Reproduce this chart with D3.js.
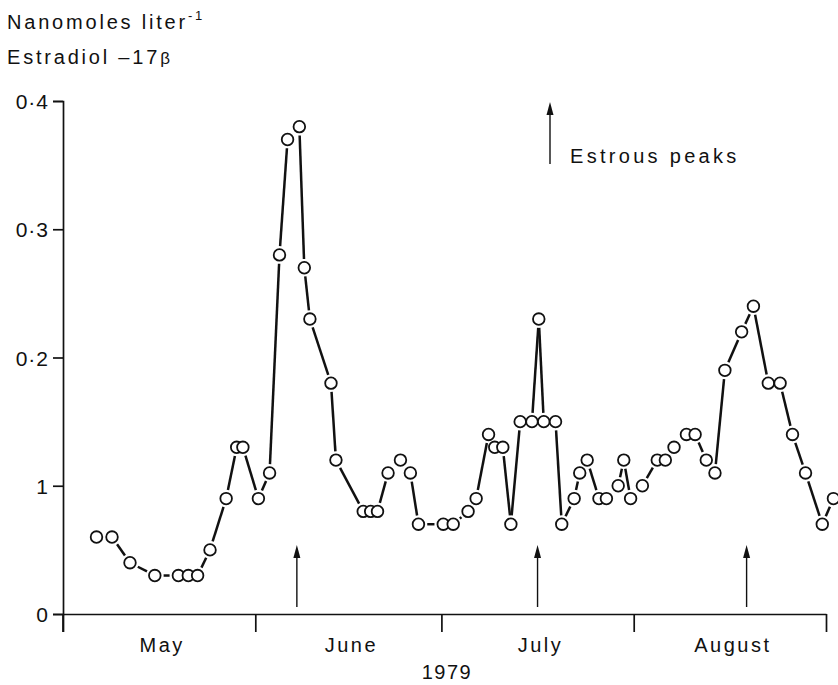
<!DOCTYPE html>
<meta charset="utf-8">
<style>
body { margin: 0; background: #fff; }
svg text { font-family: "Liberation Sans", Arial, sans-serif; fill: #111; }
.axis path, .axis line { stroke: #111; stroke-width: 1.7; }
</style>
<svg width="838" height="685"></svg>
<script src="https://cdn.jsdelivr.net/npm/d3@7"></script>
<script>

// day number counted from 30 April 1979 (May 1 = day 1 boundary at 0)
var days = [5.4, 7.9, 10.8, 14.8, 18.6, 20.2, 21.7, 23.7, 26.3, 28.0, 29.0, 31.5, 33.3,
  34.9, 36.2, 38.1, 38.9, 39.8, 43.2, 44.0, 48.4, 49.6, 50.7, 52.4, 54.4, 56.0, 57.3,
  61.3, 62.9, 65.3, 66.6, 68.6, 69.6, 70.9, 72.2, 73.7, 75.6, 76.7, 77.5, 79.4, 80.4,
  82.4, 83.3, 84.5, 86.4, 87.6, 89.5, 90.4, 91.5, 93.4, 95.8, 97.1, 98.5, 100.5, 101.9,
  103.7, 105.1, 106.7, 109.4, 111.3, 113.7, 115.6, 117.6, 119.7, 122.4, 124.2];

var estradiol = [0.06, 0.06, 0.04, 0.03, 0.03, 0.03, 0.03, 0.05, 0.09, 0.13, 0.13, 0.09, 0.11,
  0.28, 0.37, 0.38, 0.27, 0.23, 0.18, 0.12, 0.08, 0.08, 0.08, 0.11, 0.12, 0.11, 0.07,
  0.07, 0.07, 0.08, 0.09, 0.14, 0.13, 0.13, 0.07, 0.15, 0.15, 0.23, 0.15, 0.15, 0.07,
  0.09, 0.11, 0.12, 0.09, 0.09, 0.10, 0.12, 0.09, 0.10, 0.12, 0.12, 0.13, 0.14, 0.14,
  0.12, 0.11, 0.19, 0.22, 0.24, 0.18, 0.18, 0.14, 0.11, 0.07, 0.09];

var monthNames = ["May", "June", "July", "August"];
var monthStarts = [0, 31, 61, 92, 123];
var peakDays = [37.7, 76.5, 110.2];

var yTicks = [0, 0.1, 0.2, 0.3, 0.4];
var yTickLabels = ["0", "1", "0\u00b72", "0\u00b73", "0\u00b74"];

var svg = d3.select("svg");

var x = d3.scaleLinear().domain([0, 123]).range([63, 826]);
var y = d3.scaleLinear().domain([0, 0.4]).range([614, 101]);

// y axis
var yAxis = svg.append("g")
    .attr("class", "axis")
    .attr("transform", "translate(63,0)")
    .call(d3.axisLeft(y)
      .tickValues(yTicks)
      .tickSize(10)
      .tickSizeOuter(10)
      .tickPadding(4)
      .tickFormat(function(d, i) { return yTickLabels[i]; }));
yAxis.selectAll("text")
    .style("font-size", "21px")
    .style("letter-spacing", "1px")
    .attr("dy", "0.36em");

// y axis runs a bit below the zero line
svg.append("line")
    .attr("x1", 63).attr("x2", 63)
    .attr("y1", y(0)).attr("y2", y(0) + 18)
    .attr("stroke", "#111").attr("stroke-width", 1.7);

// x axis
var xAxis = svg.append("g")
    .attr("class", "axis")
    .attr("transform", "translate(0," + y(0) + ")")
    .call(d3.axisBottom(x)
      .tickValues(monthStarts)
      .tickSize(18)
      .tickSizeOuter(0)
      .tickFormat(""));

svg.append("g").selectAll("text")
    .data(monthNames)
    .enter().append("text")
    .attr("x", function(d, i) { return (x(monthStarts[i]) + x(monthStarts[i + 1])) / 2 + 3; })
    .attr("y", y(0) + 38)
    .attr("text-anchor", "middle")
    .style("font-size", "20px")
    .style("letter-spacing", "2.5px")
    .text(function(d) { return d; });

svg.append("text")
    .attr("x", 447)
    .attr("y", 679)
    .attr("text-anchor", "middle")
    .style("font-size", "20px")
    .style("letter-spacing", "1.5px")
    .text("1979");

// titles
var t1 = svg.append("text")
    .attr("x", 7).attr("y", 29)
    .style("font-size", "20px")
    .style("letter-spacing", "2.8px");
t1.append("tspan").text("Nanomoles  liter");
t1.append("tspan").attr("dy", -9).style("font-size", "13px").text("-1");

var t2 = svg.append("text")
    .attr("x", 7).attr("y", 64)
    .style("font-size", "20px")
    .style("letter-spacing", "2.8px");
t2.append("tspan").text("Estradiol \u201317");
t2.append("tspan").style("font-size", "17px").text("\u03b2");

// connecting segments, trimmed so they stop short of the circles
var r = 5.8, gap = 3;
var pts = days.map(function(d, i) { return [x(d), y(estradiol[i])]; });
var segs = [];
for (var i = 0; i < pts.length - 1; i++) {
  var a = pts[i], b = pts[i + 1];
  var dx = b[0] - a[0], dy = b[1] - a[1];
  var len = Math.sqrt(dx * dx + dy * dy);
  var cut = r + gap;
  if (len > 2 * cut + 1) {
    segs.push([a[0] + dx / len * cut, a[1] + dy / len * cut,
               b[0] - dx / len * cut, b[1] - dy / len * cut]);
  }
}

svg.append("g").selectAll("line")
    .data(segs)
    .enter().append("line")
    .attr("x1", function(d) { return d[0]; })
    .attr("y1", function(d) { return d[1]; })
    .attr("x2", function(d) { return d[2]; })
    .attr("y2", function(d) { return d[3]; })
    .attr("stroke", "#111")
    .attr("stroke-width", 2.5);

svg.append("g").selectAll("circle")
    .data(pts)
    .enter().append("circle")
    .attr("cx", function(d) { return d[0]; })
    .attr("cy", function(d) { return d[1]; })
    .attr("r", r)
    .attr("fill", "#fff")
    .attr("stroke", "#111")
    .attr("stroke-width", 1.8);

// estrous peak arrows
function arrow(g, ax, yBottom, yTop) {
  g.append("line")
    .attr("x1", ax).attr("x2", ax)
    .attr("y1", yBottom).attr("y2", yTop + 10)
    .attr("stroke", "#111").attr("stroke-width", 1.4);
  g.append("path")
    .attr("d", "M" + (ax - 3.5) + "," + (yTop + 13) + "L" + ax + "," + yTop + "L" + (ax + 3.5) + "," + (yTop + 13) + "Z")
    .attr("fill", "#111");
}

var arrows = svg.append("g");
peakDays.forEach(function(d) {
  arrow(arrows, x(d), y(0) - 7, y(0) - 69);
});

// legend
arrow(svg.append("g"), 550, 164, 102);
svg.append("text")
    .attr("x", 570).attr("y", 163)
    .style("font-size", "20px")
    .style("letter-spacing", "3.3px")
    .text("Estrous peaks");

</script>
